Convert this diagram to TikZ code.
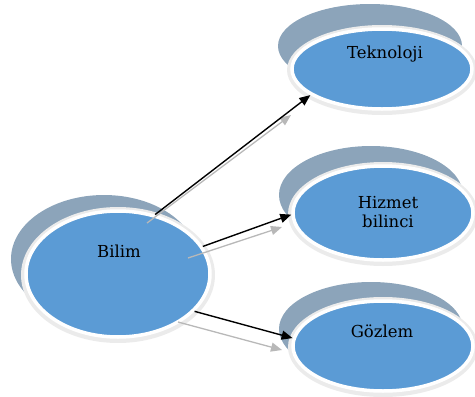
\documentclass[tikz,border=0pt]{standalone}
\usepackage{fontspec}
\setmainfont{DejaVu Serif}
\usetikzlibrary{shapes.geometric,arrows.meta}
\definecolor{mainblue}{HTML}{5B9BD5}
\definecolor{shadowblue}{HTML}{8CA4BA}
\definecolor{ringgray}{HTML}{EBEBEB}
\definecolor{arrowgray}{HTML}{B8B8B8}
\tikzset{
  shadowell/.style={ellipse, fill=shadowblue, draw=none, inner sep=0pt},
  outerring/.style={ellipse, fill=ringgray, draw=none, inner sep=0pt},
  mainell/.style={ellipse, fill=mainblue, draw=white, line width=3.5pt, inner sep=0pt},
  lbl/.style={font=\fontsize{16.5}{20}\selectfont, align=center, text=black, inner sep=0pt},
  blackarrow/.style={draw=black, line width=1.4pt, -{Triangle[length=11pt,width=9pt]}},
  grayarrow/.style={draw=arrowgray, line width=1.3pt, -{Triangle[length=11pt,width=9pt]}}
}
\begin{document}
\begin{tikzpicture}[x=1pt,y=-1pt]
\useasboundingbox (0,0) rectangle (475,397);
% shadows
\node[shadowell, minimum width=186pt, minimum height=128pt] (bilimS) at (104,259) {};
\node[shadowell, minimum width=184pt, minimum height=84pt] (tekS) at (370,46) {};
\node[shadowell, minimum width=184pt, minimum height=98pt] (hizS) at (371,195) {};
\node[shadowell, minimum width=184pt, minimum height=94pt] (gozS) at (371,329) {};
% outer soft rings
\node[outerring, minimum width=194pt, minimum height=136pt] (bilimR) at (118,275) {};
\node[outerring, minimum width=190pt, minimum height=90pt] (tekR) at (382,70) {};
\node[outerring, minimum width=190pt, minimum height=104pt] (hizR) at (383,214) {};
\node[outerring, minimum width=190pt, minimum height=100pt] (gozR) at (383,347) {};
% main ellipses
\node[mainell, minimum width=184pt, minimum height=126pt] (bilim) at (118,274) {};
\node[mainell, minimum width=180pt, minimum height=80pt] (tek) at (382,69) {};
\node[mainell, minimum width=180pt, minimum height=94pt] (hiz) at (383,213) {};
\node[mainell, minimum width=180pt, minimum height=90pt] (goz) at (383,346) {};
% labels
\node[lbl] (bilimT) at (119,251) {Bilim};
\node[lbl] (tekT) at (385,54) {Teknoloji};
\node[lbl] (hizT) at (388,212) {Hizmet\\[-1pt]bilinci};
\node[lbl] (gozT) at (382,331) {Gözlem};
% gray shadow arrows
\coordinate (g1s) at (147,223);
\coordinate (g1e) at (291,115);
\coordinate (g2s) at (188,258);
\coordinate (g2e) at (282,227);
\coordinate (g3s) at (178,322);
\coordinate (g3e) at (282,350);
\draw[grayarrow] (g1s) -- (g1e);
\draw[grayarrow] (g2s) -- (g2e);
\draw[grayarrow] (g3s) -- (g3e);
% black arrows
\draw[blackarrow] (bilim.58) -- (tek.200);
\draw[blackarrow] (bilim.18) -- (hiz.181);
\draw[blackarrow] (bilim.334) -- (goz.175);
\end{tikzpicture}
\end{document}
